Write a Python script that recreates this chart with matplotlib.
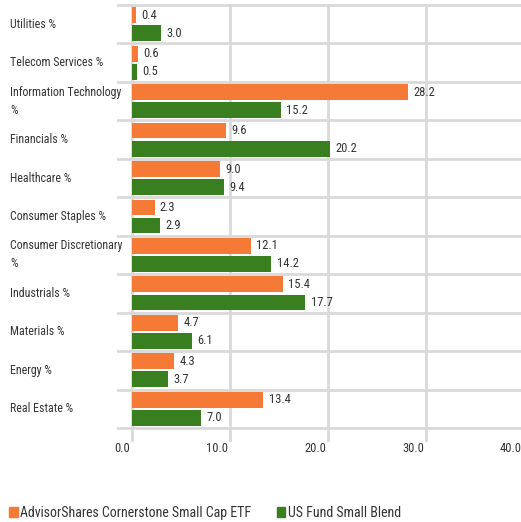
import matplotlib
matplotlib.use("Agg")
import matplotlib.pyplot as plt
from matplotlib.patches import Patch
from matplotlib.lines import Line2D
from matplotlib.transforms import offset_copy
import numpy as np

categories = ["Utilities %", "Telecom Services %", "Information Technology\n%", "Financials %",
              "Healthcare %", "Consumer Staples %", "Consumer Discretionary\n%", "Industrials %",
              "Materials %", "Energy %", "Real Estate %"]
fund = [0.4, 0.6, 28.2, 9.6, 9.0, 2.3, 12.1, 15.4, 4.7, 4.3, 13.4]
bench = [3.0, 0.5, 15.2, 20.2, 9.4, 2.9, 14.2, 17.7, 6.1, 3.7, 7.0]
series_names = ["AdvisorShares Cornerstone Small Cap ETF", "US Fund Small Blend"]
xticks = [0, 10, 20, 30, 40]

orange = "#F47A36"
green = "#3A7F1F"
grid = "#D9D9D9"
txt = "#333333"

plt.rcParams['font.family'] = ['Roboto Condensed', 'Roboto', 'DejaVu Sans']
W, H = 521, 522
fig = plt.figure(figsize=(W/100, H/100), dpi=100)
ax = fig.add_axes([132/W, 1-428/H, (524-132)/W, (428-5)/H])
n = len(categories)
ax.set_xlim(0, 40)
ax.set_ylim(n, 0)
for s in ax.spines.values():
    s.set_visible(False)
ax.set_xticks([]); ax.set_yticks([])

fs = 9.0
bh = 0.41
y = np.arange(n)
ax.barh(y + 0.5 - bh/2 - 0.03, fund, height=bh, color=orange, zorder=3)
ax.barh(y + 0.5 + bh/2 + 0.03, bench, height=bh, color=green, zorder=3)
for i in range(n):
    ax.text(fund[i] + 0.55, i + 0.5 - bh/2 - 0.03, f"{fund[i]:.1f}", va='center', ha='left', fontsize=fs, color=txt, zorder=4)
    ax.text(bench[i] + 0.55, i + 0.5 + bh/2 + 0.03, f"{bench[i]:.1f}", va='center', ha='left', fontsize=fs, color=txt, zorder=4)

# horizontal gridlines at category boundaries, extending left
x_left = (118-132)/(524-132)
for b in range(n + 1):
    ax.add_line(Line2D([x_left, 1], [b, b], transform=ax.get_yaxis_transform(), color=grid, lw=2, clip_on=False, zorder=1))
# vertical gridlines
yb = -12/(428-5)
tick_tr = offset_copy(ax.get_xaxis_transform(), fig=fig, x=-2, y=0, units='dots')
for xv in xticks:
    ax.add_line(Line2D([xv, xv], [yb, 1], transform=ax.get_xaxis_transform(), color=grid, lw=2, clip_on=False, zorder=1))
    ax.text(xv, -21/(428-5), f"{xv:.1f}", transform=tick_tr, ha='right', va='center', fontsize=fs, color=txt)

for i, c in enumerate(categories):
    yc = 1 - (5 + (i + 0.5) * (423/n)) / H
    fig.text(10/W, yc, c, ha='left', va='center', fontsize=8.6, color=txt, linespacing=1.5)

handles = [Patch(color=orange), Patch(color=green)]
fig.legend(handles, series_names, loc='center left', bbox_to_anchor=(5/W, 1-513/H), ncol=2, frameon=False,
           handlelength=0.6, handleheight=0.8, handletextpad=0.15, columnspacing=1.9, fontsize=10, labelcolor=txt,
           borderaxespad=0, borderpad=0.3)

fig.savefig("out.png", dpi=100)
